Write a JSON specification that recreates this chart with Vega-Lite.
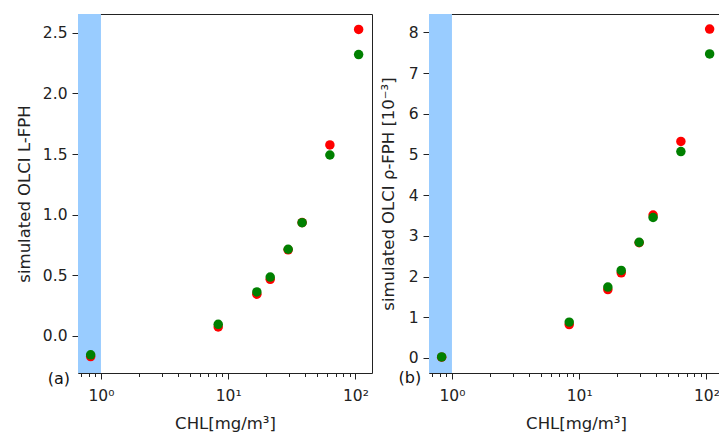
{
  "$schema": "https://vega.github.io/schema/vega-lite/v6.json",
  "padding": {"left": 15, "top": 13, "right": 0, "bottom": 0},
  "background": "white",
  "datasets": {
    "band": [{"lo": 0.66, "hi": 1}],
    "left": [
      {"chl": 0.83, "series": "s1", "val": -0.17},
      {"chl": 8.35, "series": "s1", "val": 0.074},
      {"chl": 16.8, "series": "s1", "val": 0.344},
      {"chl": 21.4, "series": "s1", "val": 0.467},
      {"chl": 29.6, "series": "s1", "val": 0.71},
      {"chl": 38.1, "series": "s1", "val": 0.935},
      {"chl": 63, "series": "s1", "val": 1.575},
      {"chl": 106, "series": "s1", "val": 2.527},
      {"chl": 0.83, "series": "s2", "val": -0.155},
      {"chl": 8.35, "series": "s2", "val": 0.096},
      {"chl": 16.8, "series": "s2", "val": 0.363},
      {"chl": 21.4, "series": "s2", "val": 0.486},
      {"chl": 29.6, "series": "s2", "val": 0.715},
      {"chl": 38.1, "series": "s2", "val": 0.934},
      {"chl": 63, "series": "s2", "val": 1.492},
      {"chl": 106, "series": "s2", "val": 2.32}
    ],
    "right": [
      {"chl": 0.83, "series": "s1", "val": 0.02},
      {"chl": 8.35, "series": "s1", "val": 0.82},
      {"chl": 16.8, "series": "s1", "val": 1.68},
      {"chl": 21.4, "series": "s1", "val": 2.09},
      {"chl": 29.6, "series": "s1", "val": 2.83},
      {"chl": 38.1, "series": "s1", "val": 3.51},
      {"chl": 63, "series": "s1", "val": 5.32},
      {"chl": 106, "series": "s1", "val": 8.08},
      {"chl": 0.83, "series": "s2", "val": 0.025},
      {"chl": 8.35, "series": "s2", "val": 0.88},
      {"chl": 16.8, "series": "s2", "val": 1.74},
      {"chl": 21.4, "series": "s2", "val": 2.15},
      {"chl": 29.6, "series": "s2", "val": 2.84},
      {"chl": 38.1, "series": "s2", "val": 3.45},
      {"chl": 63, "series": "s2", "val": 5.07},
      {"chl": 106, "series": "s2", "val": 7.47}
    ],
    "tagA": [{"chl": 0.467, "val": -0.354, "tag": "(a)"}],
    "tagB": [{"chl": 0.467, "val": -0.49, "tag": "(b)"}]
  },
  "config": {
    "font": "DejaVu Sans",
    "view": {"stroke": "#222", "strokeWidth": 1},
    "axis": {
      "domain": false,
      "grid": false,
      "tickColor": "#222",
      "labelColor": "#222",
      "titleColor": "#222",
      "labelFont": "DejaVu Sans",
      "titleFont": "DejaVu Sans",
      "labelFontSize": 15.5,
      "titleFontSize": 16.5,
      "titleFontWeight": "normal"
    },
    "point": {"filled": true, "size": 90, "opacity": 1},
    "text": {"font": "DejaVu Sans", "fontSize": 16, "color": "#111"}
  },
  "hconcat": [
    {
      "width": 294,
      "height": 359,
      "layer": [
        {
          "data": {"name": "band"},
          "mark": {"type": "rect", "color": "#99ccff"},
          "encoding": {
            "x": {"field": "lo", "type": "quantitative", "scale": {"type": "log", "domain": [0.66, 135], "nice": false}},
            "x2": {"field": "hi"}
          }
        },
        {
          "data": {"name": "left"},
          "mark": {"type": "point"},
          "encoding": {
            "x": {
              "field": "chl", "type": "quantitative",
              "scale": {"type": "log", "domain": [0.66, 135], "nice": false},
              "axis": {
                "title": "CHL[mg/m³]",
                "titlePadding": 12,
                "values": [0.7, 0.8, 0.9, 1, 2, 3, 4, 5, 6, 7, 8, 9, 10, 20, 30, 40, 50, 60, 70, 80, 90, 100],
                "labelExpr": "datum.value == 1 ? '10⁰' : datum.value == 10 ? '10¹' : datum.value == 100 ? '10²' : ''",
                "tickSize": {"condition": {"test": "datum.value == 1 || datum.value == 10 || datum.value == 100", "value": 6}, "value": 3.5},
                "labelPadding": 9,
                "labelFlush": false,
                "labelOverlap": false
              }
            },
            "y": {
              "field": "val", "type": "quantitative",
              "scale": {"domain": [-0.305, 2.654], "nice": false, "zero": false},
              "axis": {
                "title": "simulated OLCI L-FPH",
                "values": [0, 0.5, 1, 1.5, 2, 2.5],
                "format": ".1f",
                "tickSize": 6,
                "labelPadding": 5,
                "titlePadding": 10
              }
            },
            "color": {"field": "series", "type": "nominal", "scale": {"domain": ["s1", "s2"], "range": ["#ff0000", "#008000"]}, "legend": null}
          }
        },
        {
          "data": {"name": "tagA"},
          "mark": {"type": "text", "align": "center", "baseline": "middle"},
          "encoding": {
            "x": {"field": "chl", "type": "quantitative"},
            "y": {"field": "val", "type": "quantitative"},
            "text": {"field": "tag"}
          }
        }
      ]
    },
    {
      "width": 294,
      "height": 359,
      "layer": [
        {
          "data": {"name": "band"},
          "mark": {"type": "rect", "color": "#99ccff"},
          "encoding": {
            "x": {"field": "lo", "type": "quantitative", "scale": {"type": "log", "domain": [0.66, 135], "nice": false}},
            "x2": {"field": "hi"}
          }
        },
        {
          "data": {"name": "right"},
          "mark": {"type": "point"},
          "encoding": {
            "x": {
              "field": "chl", "type": "quantitative",
              "scale": {"type": "log", "domain": [0.66, 135], "nice": false},
              "axis": {
                "title": "CHL[mg/m³]",
                "titlePadding": 12,
                "values": [0.7, 0.8, 0.9, 1, 2, 3, 4, 5, 6, 7, 8, 9, 10, 20, 30, 40, 50, 60, 70, 80, 90, 100],
                "labelExpr": "datum.value == 1 ? '10⁰' : datum.value == 10 ? '10¹' : datum.value == 100 ? '10²' : ''",
                "tickSize": {"condition": {"test": "datum.value == 1 || datum.value == 10 || datum.value == 100", "value": 6}, "value": 3.5},
                "labelPadding": 9,
                "labelFlush": false,
                "labelOverlap": false
              }
            },
            "y": {
              "field": "val", "type": "quantitative",
              "scale": {"domain": [-0.37, 8.45], "nice": false, "zero": false},
              "axis": {
                "title": "simulated OLCI ρ-FPH [10⁻³]",
                "values": [0, 1, 2, 3, 4, 5, 6, 7, 8],
                "format": "d",
                "tickSize": 6,
                "labelPadding": 5,
                "titlePadding": 12
              }
            },
            "color": {"field": "series", "type": "nominal", "scale": {"domain": ["s1", "s2"], "range": ["#ff0000", "#008000"]}, "legend": null}
          }
        },
        {
          "data": {"name": "tagB"},
          "mark": {"type": "text", "align": "center", "baseline": "middle"},
          "encoding": {
            "x": {"field": "chl", "type": "quantitative"},
            "y": {"field": "val", "type": "quantitative"},
            "text": {"field": "tag"}
          }
        }
      ]
    }
  ],
  "spacing": 57,
  "bounds": "flush"
}
